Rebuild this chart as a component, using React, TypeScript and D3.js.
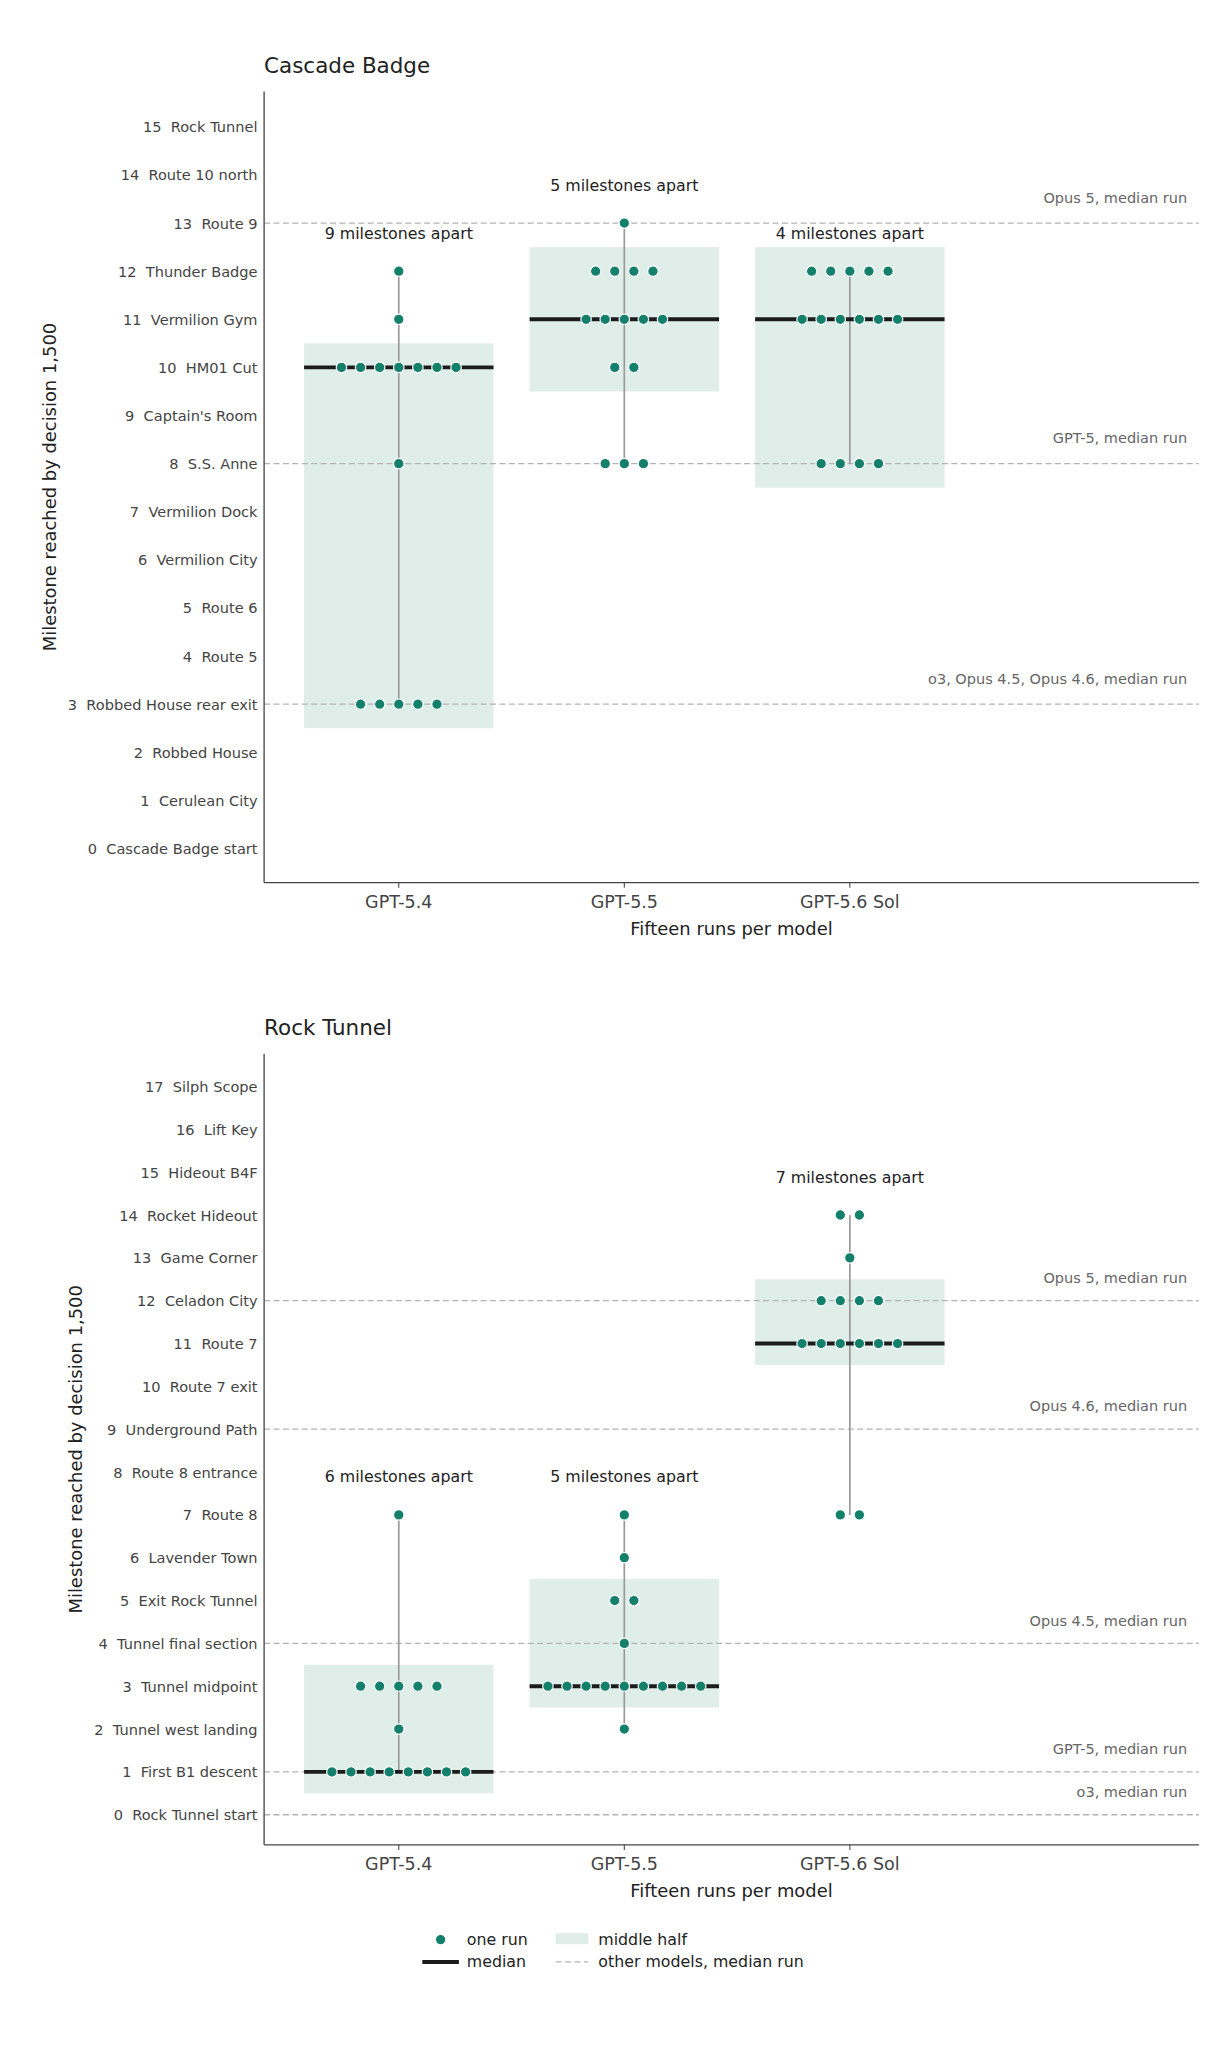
import React from 'react';
import * as d3 from 'd3';

// models on the x axis
const models = ['GPT-5.4', 'GPT-5.5', 'GPT-5.6 Sol'];

// Cascade Badge panel
const cascadeMilestones = [
  'Cascade Badge start', 'Cerulean City', 'Robbed House', 'Robbed House rear exit',
  'Route 5', 'Route 6', 'Vermilion City', 'Vermilion Dock', 'S.S. Anne',
  "Captain's Room", 'HM01 Cut', 'Vermilion Gym', 'Thunder Badge', 'Route 9',
  'Route 10 north', 'Rock Tunnel',
];
const cascadeGpt54 = [3, 3, 3, 3, 3, 8, 10, 10, 10, 10, 10, 10, 10, 11, 12];
const cascadeGpt55 = [8, 8, 8, 10, 10, 11, 11, 11, 11, 11, 12, 12, 12, 12, 13];
const cascadeGpt56 = [8, 8, 8, 8, 11, 11, 11, 11, 11, 11, 12, 12, 12, 12, 12];
const cascadeRefValues = [13, 8, 3];
const cascadeRefLabels = ['Opus 5, median run', 'GPT-5, median run', 'o3, Opus 4.5, Opus 4.6, median run'];

// Rock Tunnel panel
const rockMilestones = [
  'Rock Tunnel start', 'First B1 descent', 'Tunnel west landing', 'Tunnel midpoint',
  'Tunnel final section', 'Exit Rock Tunnel', 'Lavender Town', 'Route 8',
  'Route 8 entrance', 'Underground Path', 'Route 7 exit', 'Route 7', 'Celadon City',
  'Game Corner', 'Rocket Hideout', 'Hideout B4F', 'Lift Key', 'Silph Scope',
];
const rockGpt54 = [1, 1, 1, 1, 1, 1, 1, 1, 2, 3, 3, 3, 3, 3, 7];
const rockGpt55 = [2, 3, 3, 3, 3, 3, 3, 3, 3, 3, 4, 5, 5, 6, 7];
const rockGpt56 = [7, 7, 11, 11, 11, 11, 11, 11, 12, 12, 12, 12, 13, 14, 14];
const rockRefValues = [12, 9, 4, 1, 0];
const rockRefLabels = ['Opus 5, median run', 'Opus 4.6, median run', 'Opus 4.5, median run', 'GPT-5, median run', 'o3, median run'];

const W = 940;
const H = 1566.4;
const FONT = '"DejaVu Sans", sans-serif';
const TEAL = '#13806c';
const BOX = '#e0eeea';
const INK = '#222';
const TICK = '#444';
const REF = '#b3b3b3';

const left = 202;
const right = 917;

interface PanelProps {
  title: string;
  milestones: string[];
  runs: number[][];
  refValues: number[];
  refLabels: string[];
  top: number;
  bottom: number;
  y0: number;
  yMax: number;
  yLabelX: number;
}

const Panel: React.FC<PanelProps> = ({ title, milestones, runs, refValues, refLabels, top, bottom, y0, yMax, yLabelX }) => {
  const n = milestones.length - 1;
  const y = d3.scaleLinear().domain([0, n]).range([y0, yMax]);
  const x = d3.scaleLinear().domain([0, 2]).range([305, 650]);
  const unit = x(1) - x(0);
  const halfBox = 0.42 * unit;
  const dotStep = 0.0847 * unit;

  return (
    <g fontFamily={FONT}>
      <text x={left} y={top - 14} fontSize={16.4} fill={INK}>{title}</text>

      {/* middle half boxes */}
      {runs.map((vals, i) => {
        const sorted = [...vals].sort((a, b) => a - b);
        const q1 = sorted[Math.floor((sorted.length - 1) * 0.25)];
        const q3 = sorted[Math.ceil((sorted.length - 1) * 0.75)];
        return (
          <rect key={'b' + i} x={x(i) - halfBox} width={halfBox * 2}
            y={y(q3 + 0.5)} height={y(q1 - 0.5) - y(q3 + 0.5)} fill={BOX} />
        );
      })}

      {refValues.map((v, i) => (
        <g key={'r' + i}>
          <line x1={left} x2={right} y1={y(v)} y2={y(v)} stroke={REF} strokeWidth={1} strokeDasharray="4.6 2.6" />
          <text x={908} y={y(v + 0.53)} textAnchor="end" dominantBaseline="central" fontSize={11.1} fill="#666">{refLabels[i]}</text>
        </g>
      ))}

      {runs.map((vals, i) => {
        const lo = d3.min(vals)!;
        const hi = d3.max(vals)!;
        const med = d3.median(vals)!;
        const counts = d3.rollups(vals, v => v.length, d => d);
        return (
          <g key={'m' + i}>
            <line x1={x(i)} x2={x(i)} y1={y(hi)} y2={y(lo)} stroke="#9a9a9a" strokeWidth={1.3} />
            <line x1={x(i) - halfBox} x2={x(i) + halfBox} y1={y(med)} y2={y(med)} stroke="#1c1c1c" strokeWidth={3} />
            {counts.map(([val, c]) =>
              d3.range(c).map(k => (
                <circle key={val + '-' + k} cx={x(i) + (k - (c - 1) / 2) * dotStep} cy={y(val)} r={4}
                  fill={TEAL} stroke="#fff" strokeWidth={0.9} />
              ))
            )}
            <text x={x(i)} y={y(hi) - 29} textAnchor="middle" dominantBaseline="central" fontSize={12.1} fill={INK}>
              {`${hi - lo} milestones apart`}
            </text>
          </g>
        );
      })}

      {/* y axis */}
      <line x1={left} x2={left} y1={top} y2={bottom} stroke="#444" strokeWidth={1} />
      {milestones.map((m, i) => (
        <text key={'t' + i} x={197} y={y(i)} textAnchor="end" dominantBaseline="central" fontSize={11.15}
          fill={TICK} style={{ whiteSpace: 'pre' }}>{`${i}  ${m}`}</text>
      ))}
      <text transform={`translate(${yLabelX},${(top + bottom) / 2}) rotate(-90)`} textAnchor="middle"
        dominantBaseline="central" fontSize={13.7} fill={INK}>Milestone reached by decision 1,500</text>

      {/* x axis */}
      <line x1={left} x2={right} y1={bottom} y2={bottom} stroke="#444" strokeWidth={1} />
      {models.map((m, i) => (
        <g key={'x' + i}>
          <line x1={x(i)} x2={x(i)} y1={bottom} y2={bottom + 4} stroke="#444" strokeWidth={0.8} />
          <text x={x(i)} y={bottom + 15} textAnchor="middle" dominantBaseline="central" fontSize={13.4} fill={TICK}>{m}</text>
        </g>
      ))}
      <text x={(left + right) / 2} y={bottom + 35} textAnchor="middle" dominantBaseline="central" fontSize={13.7} fill={INK}>
        Fifteen runs per model
      </text>
    </g>
  );
};

const Legend: React.FC = () => (
  <g fontFamily={FONT} fontSize={12.1} fill={INK}>
    <circle cx={337} cy={1483.5} r={4} fill={TEAL} stroke="#fff" strokeWidth={0.9} />
    <text x={357} y={1483.5} dominantBaseline="central">one run</text>
    <line x1={323} x2={351} y1={1500.6} y2={1500.6} stroke="#1c1c1c" strokeWidth={3} />
    <text x={357} y={1500.6} dominantBaseline="central">median</text>
    <rect x={425} y={1478.6} width={25} height={8.4} fill={BOX} />
    <text x={457.6} y={1483.5} dominantBaseline="central">middle half</text>
    <line x1={425} x2={450} y1={1500.6} y2={1500.6} stroke={REF} strokeWidth={1} strokeDasharray="4.6 2.6" />
    <text x={457.6} y={1500.6} dominantBaseline="central">other models, median run</text>
  </g>
);

export default function App() {
  return (
    <div style={{ position: 'absolute', left: 0, top: 0 }}>
      <svg width={1229} height={2048} viewBox={`0 0 ${W} ${H}`} style={{ display: 'block', background: '#fff' }}>
        <rect width={W} height={H} fill="#fff" />
        <Panel title="Cascade Badge" milestones={cascadeMilestones}
          runs={[cascadeGpt54, cascadeGpt55, cascadeGpt56]}
          refValues={cascadeRefValues} refLabels={cascadeRefLabels}
          top={70} bottom={675} y0={649} yMax={97} yLabelX={38} />
        <Panel title="Rock Tunnel" milestones={rockMilestones}
          runs={[rockGpt54, rockGpt55, rockGpt56]}
          refValues={rockRefValues} refLabels={rockRefLabels}
          top={806} bottom={1411} y0={1388} yMax={831} yLabelX={58} />
        <Legend />
      </svg>
    </div>
  );
}
